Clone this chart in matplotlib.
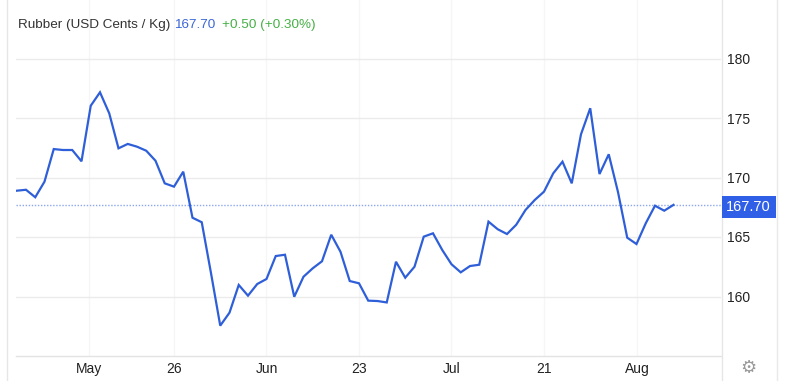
import matplotlib
matplotlib.use("Agg")
import matplotlib.pyplot as plt
from matplotlib.lines import Line2D
from matplotlib.patches import Rectangle

# ---- data ----
prices = [
    168.89, 168.97, 168.34, 169.65, 172.39, 172.31, 172.31, 171.36, 176.03, 177.16,
    175.39, 172.45, 172.82, 172.59, 172.25, 171.41, 169.51, 169.23, 170.49, 166.62,
    166.24, 161.97, 157.55, 158.64, 160.97, 160.07, 161.05, 161.47, 163.40, 163.51,
    159.98, 161.66, 162.37, 162.96, 165.19, 163.76, 161.30, 161.11, 159.65, 159.62,
    159.50, 162.92, 161.58, 162.50, 165.03, 165.31, 163.91, 162.71, 162.03, 162.56,
    162.67, 166.29, 165.65, 165.25, 166.03, 167.27, 168.11, 168.81, 170.35, 171.33,
    169.51, 173.63, 175.82, 170.29, 171.95, 168.78, 164.94, 164.41, 166.15, 167.63,
    167.21, 167.70,
]
tick_pos = [7.8, 17.05, 27, 37.05, 47, 57.05, 67.1]
tick_labels = ["May", "26", "Jun", "23", "Jul", "21", "Aug"]
y_ticks = [160, 165, 170, 175, 180]
last_price = 167.70
title_name = "Rubber (USD Cents / Kg)"
title_price = "167.70"
title_change = "+0.50 (+0.30%)"

W, H = 792, 381
plt.rcParams['font.family'] = ['Liberation Sans', 'DejaVu Sans']
fig = plt.figure(figsize=(W / 100, H / 100), dpi=100)

left_px, right_px, bottom_px = 16, 721, 356
ax = fig.add_axes([left_px / W, (H - bottom_px) / H, (right_px - left_px) / W, bottom_px / H])

x = list(range(len(prices)))
ax.plot(x, prices, color="#2f5fd8", lw=1.6, solid_joinstyle="miter", zorder=3)

# scales
px_per_idx = 9.25
ax.set_xlim(-0.08, -0.08 + (right_px - left_px) / px_per_idx)
ax.set_ylim(180 - (bottom_px - 58.5) / 11.9, 180 + 58.5 / 11.9)

ax.axhline(last_price, color="#8ea6ee", lw=1.0, ls=(0, (1, 1.2)), zorder=2)

ax.set_xticks(tick_pos)
ax.set_xticklabels(tick_labels)
ax.set_yticks(y_ticks)
ax.yaxis.tick_right()
ax.tick_params(axis="both", length=0, labelsize=10, colors="#222222")
ax.tick_params(axis="y", pad=4.5)
ax.tick_params(axis="x", pad=4.5)

ax.grid(axis="y", color="#ebebeb", lw=1.0)
ax.grid(axis="x", color="#f6f6f6", lw=1.0)
ax.set_axisbelow(True)
for s in ["top", "left", "right"]:
    ax.spines[s].set_visible(False)
ax.spines["bottom"].set_color("#e3e3e3")
ax.spines["bottom"].set_linewidth(1.0)

# frame lines
def vline(xp, col):
    fig.add_artist(Line2D([xp / W, xp / W], [0, 1], color=col, lw=1.0, transform=fig.transFigure))

vline(7, "#e6e6e6")
vline(722, "#e6e6e6")
vline(777, "#e9e9e9")

# price tag
tag_y0, tag_y1 = 196, 218
fig.add_artist(Rectangle((721.5 / W, (H - tag_y1) / H), (776 - 721.5) / W, (tag_y1 - tag_y0) / H,
                         transform=fig.transFigure, facecolor="#2f5fe6", edgecolor="none", zorder=5))
fig.text(748.5 / W, (H - (tag_y0 + tag_y1) / 2) / H, title_price, color="white", fontsize=10.5,
         ha="center", va="center", zorder=6)

# title
ty = (H - 25) / H
fig.text(17.5 / W, ty, title_name, color="#333333", fontsize=9.7, va="center")
fig.text(174.5 / W, ty, title_price, color="#3b66d8", fontsize=9.7, va="center")
fig.text(222.5 / W, ty, title_change, color="#45b045", fontsize=9.7, va="center")

# gear icon
fig.text(748 / W, (H - 368) / H, "\u2699", color="#9a9a9a", fontsize=13, ha="center", va="center",
         family="DejaVu Sans")

fig.savefig("out.png", dpi=100, facecolor="white")
